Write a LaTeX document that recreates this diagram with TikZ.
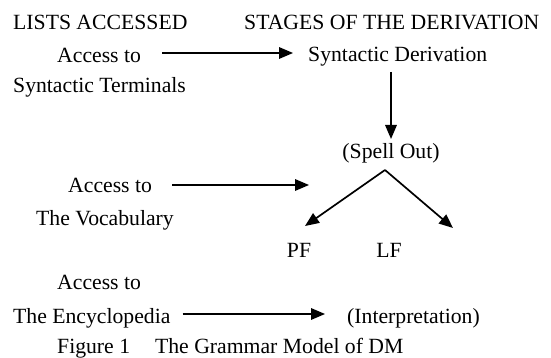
\documentclass[tikz,border=0pt]{standalone}
\usepackage{fontspec}
\setmainfont{Liberation Serif}
\usetikzlibrary{arrows.meta,calc}
\begin{document}
\begin{tikzpicture}[x=1pt,y=-1pt,
  lbl/.style={anchor=base west,inner sep=0pt,font=\fontsize{21.7}{26}\selectfont},
  lblc/.style={anchor=base,inner sep=0pt,font=\fontsize{21.7}{26}\selectfont},
  arr/.style={line width=1.7pt,-{Triangle[length=14pt,width=11.5pt]}}]
\useasboundingbox (0,0) rectangle (551,358);
\node[lbl] (lists) at (13,30) {LISTS ACCESSED};
\node[lbl] (stages) at (244,30) {STAGES OF THE DERIVATION};
\node[lbl] (acc1) at (57,63) {Access to};
\node[lbl] (synder) at (308,62) {Syntactic Derivation};
\node[lbl] (synterm) at (13,93) {Syntactic Terminals};
\node[lblc] (spell) at (391,159) {(Spell Out)};
\node[lbl] (acc2) at (68,193) {Access to};
\node[lbl] (vocab) at (36,225) {The Vocabulary};
\node[lblc] (pf) at (299,257) {PF};
\node[lblc] (lf) at (389,257) {LF};
\node[lbl] (acc3) at (57,289) {Access to};
\node[lbl] (encyc) at (13,323) {The Encyclopedia};
\node[lbl] (interp) at (347,323) {(Interpretation)};
\node[lbl] (caption) at (57,353) {Figure 1\hspace{25pt}The Grammar Model of DM};
\coordinate (apex) at ([shift={(-6pt,-11pt)}]spell.base);
\coordinate (ltip) at ([shift={(6pt,31pt)}]pf.base);
\coordinate (rtip) at (453,228);
\coordinate (vtip) at (309,185);
\draw[arr] ([shift={(21pt,10pt)}]acc1.base east) -- ([shift={(-15pt,9pt)}]synder.base west);
\draw[arr] ([yshift=-10pt]synder.base -| spell.base) -- ([yshift=20pt]spell.base);
\draw[arr] (apex) -- (ltip);
\draw[arr] (apex) -- (rtip);
\draw[arr] ([shift={(20pt,8pt)}]acc2.base east) -- (vtip);
\draw[arr] ([shift={(12pt,9pt)}]encyc.base east) -- ([shift={(-22pt,9pt)}]interp.base west);
\end{tikzpicture}
\end{document}
